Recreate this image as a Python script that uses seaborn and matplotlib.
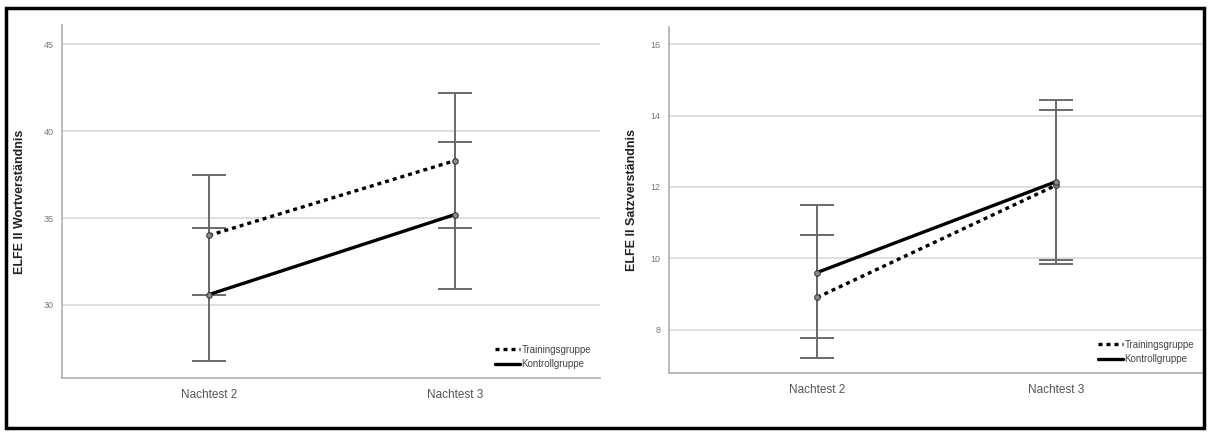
import pandas as pd
import matplotlib
matplotlib.use("Agg")
import matplotlib.pyplot as plt
from matplotlib.lines import Line2D
from matplotlib.patches import Rectangle
import seaborn as sns

# === DATEN ===
zeitpunkte = ["Nachtest 2", "Nachtest 3"]
gruppen = ["Trainingsgruppe", "Kontrollgruppe"]

# ELFE II Wortverständnis
wort_training = [34.0, 38.3]
wort_training_lo = [30.6, 34.4]
wort_training_hi = [37.5, 42.2]
wort_kontrolle = [30.6, 35.2]
wort_kontrolle_lo = [26.8, 30.9]
wort_kontrolle_hi = [34.4, 39.4]

# ELFE II Satzverständnis
satz_training = [8.9, 12.05]
satz_training_lo = [7.2, 9.95]
satz_training_hi = [10.65, 14.15]
satz_kontrolle = [9.6, 12.15]
satz_kontrolle_lo = [7.75, 9.85]
satz_kontrolle_hi = [11.5, 14.45]

wort_ticks = [30, 35, 40, 45]
satz_ticks = [8, 10, 12, 14, 16]


def long_df(training, kontrolle):
    return pd.DataFrame({
        "Zeitpunkt": zeitpunkte * 2,
        "Gruppe": [gruppen[0]] * 2 + [gruppen[1]] * 2,
        "Mittelwert": list(training) + list(kontrolle),
    })


sns.set_style("white")
plt.rcParams["font.family"] = ["Liberation Sans", "DejaVu Sans"]

fig = plt.figure(figsize=(12.1, 4.32), dpi=100)
ax1 = fig.add_axes([62 / 1210, 1 - 378 / 432, 538 / 1210, 353 / 432])
ax2 = fig.add_axes([669 / 1210, 1 - 373 / 432, 534 / 1210, 346 / 432])

dashes = {"Trainingsgruppe": (1.2, 1.2), "Kontrollgruppe": ""}
panels = [
    (ax1, wort_training, wort_training_lo, wort_training_hi,
     wort_kontrolle, wort_kontrolle_lo, wort_kontrolle_hi,
     "ELFE II Wortverständnis", wort_ticks, (25.8, 46.1), (-0.598, 1.59)),
    (ax2, satz_training, satz_training_lo, satz_training_hi,
     satz_kontrolle, satz_kontrolle_lo, satz_kontrolle_hi,
     "ELFE II Satzverständnis", satz_ticks, (6.78, 16.49), (-0.62, 1.615)),
]

for ax, tr, tr_lo, tr_hi, ko, ko_lo, ko_hi, ylabel, ticks, ylim, xlim in panels:
    df = long_df(tr, ko)
    pos = list(range(len(zeitpunkte)))

    # Konfidenzintervalle
    for m, lo, hi in [(tr, tr_lo, tr_hi), (ko, ko_lo, ko_hi)]:
        ax.errorbar(pos, m, yerr=[[a - b for a, b in zip(m, lo)],
                                  [b - a for a, b in zip(m, hi)]],
                    fmt="none", ecolor="#6a6a6a", elinewidth=1.4,
                    capsize=12.5, capthick=1.4, zorder=2)

    sns.lineplot(data=df, x="Zeitpunkt", y="Mittelwert", style="Gruppe",
                 style_order=gruppen, dashes=dashes, markers={g: "o" for g in gruppen},
                 color="black", linewidth=2.4, markersize=4,
                 markerfacecolor="#8a8a8a", markeredgecolor="#333333",
                 legend=False, ax=ax, zorder=3)

    ax.set_ylim(*ylim)
    ax.set_xlim(*xlim)
    ax.set_yticks(ticks)
    ax.yaxis.grid(True, color="#d6d6d6", linewidth=1.1)
    ax.set_axisbelow(True)
    for s in ["top", "right"]:
        ax.spines[s].set_visible(False)
    for s in ["left", "bottom"]:
        ax.spines[s].set_color("#b5b5b5")
        ax.spines[s].set_linewidth(1.3)
    ax.tick_params(axis="y", labelsize=6.5, labelcolor="#777777", length=0, pad=6)
    ax.tick_params(axis="x", labelsize=8.5, labelcolor="#555555", length=0, pad=8)
    ax.set_xlabel("")
    ax.set_ylabel(ylabel, fontsize=9, fontweight="bold", color="#222222")

    handles = [Line2D([], [], color="black", lw=2.4, dashes=(1.2, 1.2)),
               Line2D([], [], color="black", lw=2.4)]
    leg = ax.legend(handles, gruppen, loc="lower right", frameon=False,
                    fontsize=7, handlelength=2.6, handletextpad=0.15,
                    labelspacing=0.45, borderaxespad=0.5)
    for t in leg.get_texts():
        t.set_color("#444444")

ax1.yaxis.set_label_coords(-0.067, 0.5)
ax2.yaxis.set_label_coords(-0.058, 0.5)

# Rahmen um die gesamte Abbildung
fig.patches.append(Rectangle((6 / 1210, 4 / 432), 1198 / 1210, 420 / 432,
                             transform=fig.transFigure, fill=False,
                             edgecolor="black", linewidth=2.5))

fig.savefig("out.png", dpi=100)
